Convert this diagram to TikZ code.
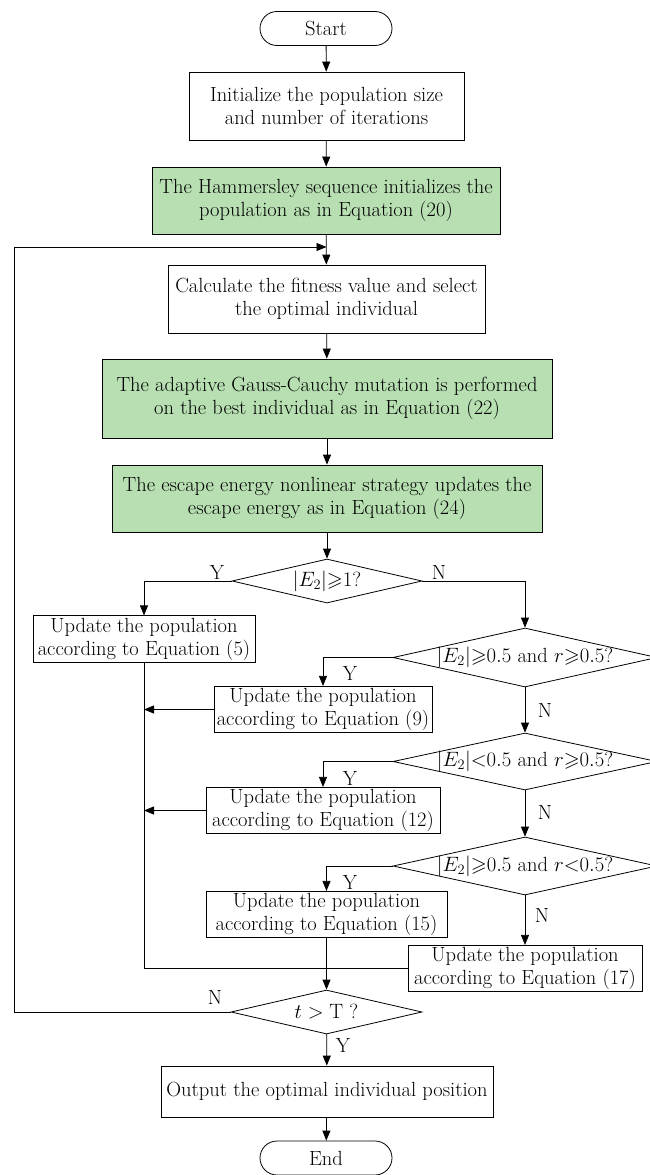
\documentclass[tikz,border=0pt]{standalone}
\usepackage{amsmath}
\usepackage{amssymb}
\usepackage{xcolor}
\usepackage{tikz}
\usetikzlibrary{shapes.geometric, arrows.meta, calc}
\definecolor{boxgreen}{RGB}{183,223,178}
\newcommand{\cond}[1]{\makebox[0pt]{#1}}

\begin{document}
\begin{tikzpicture}[
  x=1pt, y=-1pt,
  every node/.style={font=\fontsize{20.5}{23}\selectfont},
  startstop/.style={draw, rounded corners=17pt, line width=0.8pt,
                    minimum width=132pt, minimum height=34pt},
  process/.style  ={draw, align=center, inner sep=2pt, line width=0.8pt},
  greenbox/.style ={process, fill=boxgreen},
  decision/.style ={draw, diamond, inner sep=0pt, line width=0.8pt},
  yn/.style={inner sep=1pt},
  arr/.style={-{Triangle[length=10pt,width=8pt]}, line width=0.8pt},
  line/.style={line width=0.8pt},
]
\useasboundingbox (0,0) rectangle (649,1175);

\node[startstop] (start) at (326,28.5) {Start};
\node[process,  minimum width=275pt, minimum height=68pt] (init)   at (326.5,106)
      {Initialize the population size\\and number of iterations};
\node[greenbox, minimum width=348pt, minimum height=67pt] (hamm)   at (326,200.5)
      {The Hammersley sequence initializes the\\population as in Equation (20)};
\node[process,  minimum width=317pt, minimum height=68pt] (fit)    at (326.5,299)
      {Calculate the fitness value and select\\the optimal individual};
\node[greenbox, minimum width=450pt, minimum height=79pt] (gauss)  at (327,398.5)
      {The adaptive Gauss-Cauchy mutation is performed\\on the best individual as in Equation (22)};
\node[greenbox, minimum width=430pt, minimum height=67pt] (escape) at (327,498.5)
      {The escape energy nonlinear strategy updates the\\escape energy as in Equation (24)};

% energy tests
\node[decision, minimum width=190pt, minimum height=44pt] (d1) at (327,581)
      {\cond{$|E_2|{\geqslant}1$?}};
\node[process,  minimum width=222pt, minimum height=46pt] (up5) at (144,639)
      {Update the population\\according to Equation (5)};
\node[decision, minimum width=264pt, minimum height=59pt] (d2) at (525,657.5)
      {\cond{$|E_2|{\geqslant}0.5$ and $r{\geqslant}0.5$?}};
\node[process,  minimum width=218pt, minimum height=45pt] (up9) at (323,709.5)
      {Update the population\\according to Equation (9)};
\node[decision, minimum width=264pt, minimum height=57pt] (d3) at (525,761.5)
      {\cond{$|E_2|{<}0.5$ and $r{\geqslant}0.5$?}};
\node[process,  minimum width=234pt, minimum height=45pt] (up12) at (323,810.5)
      {Update the population\\according to Equation (12)};
\node[decision, minimum width=264pt, minimum height=58pt] (d4) at (525,866)
      {\cond{$|E_2|{\geqslant}0.5$ and $r{<}0.5$?}};
\node[process,  minimum width=241pt, minimum height=45pt] (up15) at (326.5,914.5)
      {Update the population\\according to Equation (15)};
\node[process,  minimum width=234pt, minimum height=45pt] (up17) at (525,968.5)
      {Update the population\\according to Equation (17)};

% iteration test and output
\node[decision, minimum width=191pt, minimum height=44pt] (d5) at (326.5,1012)
      {\cond{$t>\mathrm{T}$ ?}};
\node[process,  minimum width=332pt, minimum height=51pt] (out) at (327,1091.5)
      {Output the optimal individual position};
\node[startstop] (end) at (326,1158) {End};

\node[yn] (y1) at (217,572) {Y};
\node[yn] (n1) at (439,572) {N};
\node[yn] (y2) at (350,673) {Y};
\node[yn] (n2) at (545,710) {N};
\node[yn] (y3) at (350,778) {Y};
\node[yn] (n3) at (545,812) {N};
\node[yn] (y4) at (350,882) {Y};
\node[yn] (n4) at (542,915) {N};
\node[yn] (n5) at (215,997) {N};
\node[yn] (y5) at (343,1045) {Y};

\coordinate (lp) at (14,247);
\coordinate (jn) at (up15.south |- up17.west);

\draw[arr] (start)  -- (init);
\draw[arr] (init)   -- (hamm);
\draw[arr] (hamm)   -- (fit);
\draw[arr] (fit)    -- (gauss);
\draw[arr] (gauss)  -- (escape);
\draw[arr] (escape) -- (d1);
\draw[arr] (d1.west) -| (up5.north);
\draw[arr] (d1.east) -| (d2.north);
\draw[arr] (d2.west) -| (up9.north);
\draw[arr] (d2)     -- (d3);
\draw[arr] (d3.west) -| (up12.north);
\draw[arr] (d3)     -- (d4);
\draw[arr] (d4.west) -| (up15.north);
\draw[arr] (d4)     -- (up17);
\draw[arr] (up9.west)  -- (up9.west -| up5.south);
\draw[arr] (up12.west) -- (up12.west -| up5.south);
\draw[line] (up5.south) |- (jn);
\draw[line] (up17.west) -- (jn);
\draw[arr] (up15)   -- (d5);
\draw[arr] (d5.west) -| (lp) -- (lp -| fit.north);
\draw[arr] (d5)     -- (out);
\draw[arr] (out)    -- (end);

\end{tikzpicture}
\end{document}
